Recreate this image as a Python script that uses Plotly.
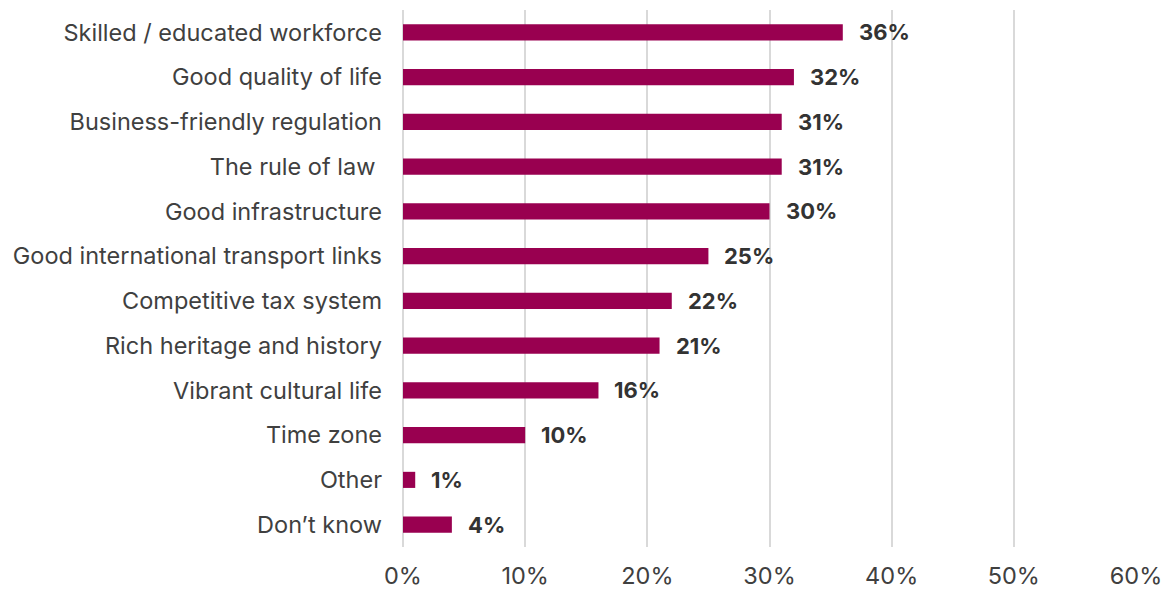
import plotly.graph_objects as go

categories = [
    "Skilled / educated workforce",
    "Good quality of life",
    "Business-friendly regulation",
    "The rule of law ",
    "Good infrastructure",
    "Good international transport links",
    "Competitive tax system",
    "Rich heritage and history",
    "Vibrant cultural life",
    "Time zone",
    "Other",
    "Don\u2019t know",
]
values = [36, 32, 31, 31, 30, 25, 22, 21, 16, 10, 1, 4]
x_ticks = [0, 10, 20, 30, 40, 50, 60]
x_tick_labels = ["0%", "10%", "20%", "30%", "40%", "50%", "60%"]

BAR_COLOR = "#990050"
TEXT_COLOR = "#404040"
FONT = "Inter, Roboto, Arial, sans-serif"

fig = go.Figure(
    go.Bar(
        x=values,
        y=categories,
        orientation="h",
        marker=dict(color=BAR_COLOR, line=dict(width=0)),
        width=0.36,
        hoverinfo="skip",
    )
)

for cat, val in zip(categories, values):
    fig.add_annotation(
        x=val,
        y=cat,
        text=f"<b>{val}%</b>",
        showarrow=False,
        xanchor="left",
        yanchor="middle",
        xshift=14,
        font=dict(family=FONT, size=22, color="#333333"),
    )

fig.update_layout(
    width=1172,
    height=590,
    margin=dict(l=403, r=36, t=10, b=43, autoexpand=False),
    plot_bgcolor="white",
    paper_bgcolor="white",
    showlegend=False,
    font=dict(family=FONT, size=22, color=TEXT_COLOR),
)

fig.update_xaxes(
    range=[0, 60],
    tickvals=x_ticks,
    ticktext=x_tick_labels,
    showgrid=True,
    gridcolor="#d9d9d9",
    gridwidth=2,
    zeroline=True,
    zerolinecolor="#d9d9d9",
    zerolinewidth=2,
    showline=False,
    ticks="",
    ticklabelstandoff=12,
    automargin=False,
    tickfont=dict(family=FONT, size=23.5, color=TEXT_COLOR),
    fixedrange=True,
)

fig.update_yaxes(
    categoryorder="array",
    categoryarray=categories[::-1],
    showgrid=False,
    zeroline=False,
    showline=False,
    ticks="",
    ticklabelstandoff=20,
    automargin=False,
    tickfont=dict(family=FONT, size=23.5, color=TEXT_COLOR),
    fixedrange=True,
)

fig.write_html("out.html", config={"displayModeBar": False})
